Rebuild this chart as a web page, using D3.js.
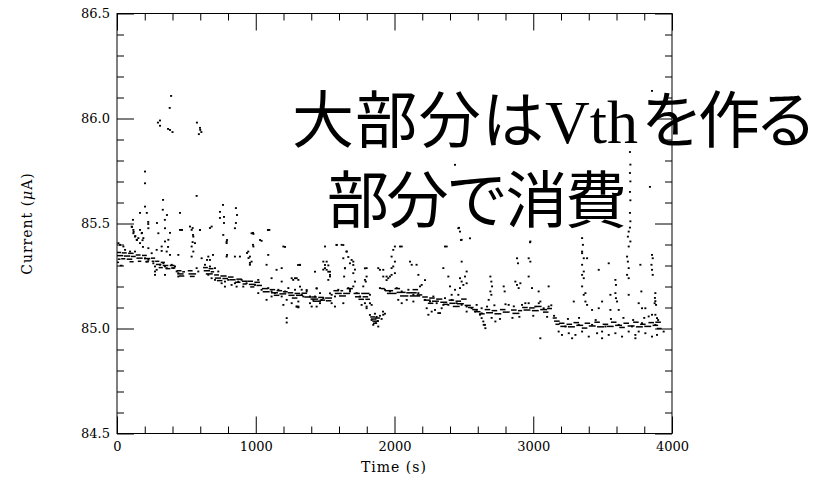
<!DOCTYPE html>
<html>
<head>
<meta charset="utf-8">
<script src="https://cdn.jsdelivr.net/npm/d3@7"></script>
<style>
  body { margin: 0; background: #fff; }
</style>
</head>
<body>
<div id="chart"></div>
<script>
// tick values
const xMajorTicks = [0, 1000, 2000, 3000, 4000];
const xMinorTicks = [200, 400, 600, 800, 1200, 1400, 1600, 1800, 2200, 2400, 2600, 2800, 3200, 3400, 3600, 3800];
const yMajorTicks = [84.5, 85.0, 85.5, 86.0, 86.5];
const yMinorTicks = [84.6, 84.7, 84.8, 84.9, 85.1, 85.2, 85.3, 85.4, 85.6, 85.7, 85.8, 85.9, 86.1, 86.2, 86.3, 86.4];

// dense baseline, read as short horizontal streaks [start s, end s, current uA]
const bandStreaks = [
  [0, 30, 85.362], [35, 70, 85.36], [80, 120, 85.358], [0, 45, 85.347], [50, 95, 85.345], [100, 135, 85.343],
  [5, 25, 85.33], [30, 60, 85.332], [70, 110, 85.33], [0, 15, 85.315], [20, 40, 85.3], [90, 120, 85.318],
  [135, 170, 85.35], [180, 215, 85.348], [140, 185, 85.335], [195, 240, 85.333], [245, 275, 85.335],
  [150, 175, 85.32], [205, 230, 85.318], [250, 270, 85.32],
  [275, 305, 85.32], [315, 345, 85.315], [280, 320, 85.305], [330, 370, 85.3], [380, 415, 85.3],
  [300, 330, 85.29], [350, 385, 85.285], [390, 420, 85.288],
  [430, 465, 85.275], [470, 490, 85.27], [435, 480, 85.26], [445, 485, 85.25], [510, 545, 85.275],
  [515, 570, 85.26], [525, 560, 85.248],
  [620, 655, 85.29], [660, 695, 85.285], [625, 670, 85.275], [675, 700, 85.27], [640, 690, 85.26],
  [700, 735, 85.255], [745, 790, 85.25], [705, 750, 85.24], [760, 800, 85.238], [720, 760, 85.228],
  [800, 840, 85.245], [810, 855, 85.232], [860, 900, 85.235], [850, 890, 85.22], [900, 940, 85.225], [905, 935, 85.212],
  [940, 980, 85.225], [990, 1030, 85.22], [950, 1000, 85.21], [1005, 1045, 85.205], [960, 990, 85.198],
  [1045, 1090, 85.19], [1100, 1140, 85.185], [1050, 1100, 85.175], [1110, 1160, 85.17], [1150, 1190, 85.18],
  [1170, 1220, 85.165], [1130, 1170, 85.158], [1195, 1230, 85.175],
  [1230, 1270, 85.17], [1280, 1320, 85.167], [1235, 1280, 85.158], [1290, 1340, 85.158], [1330, 1370, 85.168],
  [1350, 1400, 85.15], [1260, 1300, 85.145],
  [1400, 1440, 85.15], [1450, 1490, 85.148], [1395, 1450, 85.14], [1460, 1500, 85.135], [1410, 1470, 85.13],
  [1500, 1550, 85.145], [1505, 1545, 85.132],
  [1560, 1600, 85.18], [1610, 1630, 85.18], [1570, 1620, 85.167], [1630, 1680, 85.167], [1655, 1700, 85.19], [1600, 1650, 85.155],
  [1705, 1750, 85.167], [1760, 1820, 85.167], [1715, 1760, 85.151], [1770, 1810, 85.151], [1740, 1780, 85.139], [1790, 1823, 85.139],
  [1825, 1860, 85.055], [1830, 1870, 85.045], [1840, 1880, 85.035], [1845, 1875, 85.025], [1860, 1895, 85.05],
  [1930, 1990, 85.18], [1945, 2015, 85.167], [2015, 2080, 85.172], [2085, 2160, 85.17], [2040, 2100, 85.155],
  [2110, 2185, 85.155], [1900, 1930, 85.19], [2160, 2200, 85.16], [2000, 2040, 85.19], [2130, 2170, 85.185],
  [2200, 2240, 85.15], [2250, 2290, 85.145], [2210, 2260, 85.135], [2270, 2320, 85.13], [2300, 2345, 85.14],
  [2330, 2380, 85.125], [2240, 2280, 85.12], [2350, 2385, 85.115],
  [2390, 2430, 85.135], [2440, 2480, 85.13], [2395, 2440, 85.12], [2450, 2500, 85.118], [2480, 2520, 85.14],
  [2505, 2550, 85.11], [2530, 2570, 85.1], [2560, 2600, 85.09], [2580, 2620, 85.08], [2610, 2650, 85.07], [2420, 2470, 85.105],
  [2650, 2690, 85.09], [2700, 2740, 85.085], [2660, 2710, 85.075], [2720, 2770, 85.07], [2760, 2800, 85.09],
  [2780, 2830, 85.078], [2840, 2880, 85.088], [2850, 2900, 85.072], [2890, 2920, 85.085],
  [2920, 2960, 85.1], [2970, 3010, 85.098], [2930, 2980, 85.088], [2990, 3040, 85.085], [3020, 3060, 85.105],
  [3050, 3100, 85.09], [3070, 3110, 85.078], [3100, 3135, 85.095],
  [3140, 3170, 85.05], [3150, 3190, 85.035], [3160, 3190, 85.02],
  [3185, 3225, 85.025], [3240, 3280, 85.02], [3195, 3240, 85.01], [3250, 3300, 85.008], [3290, 3330, 85.028],
  [3310, 3360, 85.015], [3350, 3390, 85.002], [3370, 3410, 85.025], [3400, 3450, 85.012], [3440, 3480, 85.03],
  [3460, 3510, 85.008], [3500, 3540, 85.02], [3530, 3580, 85.01], [3560, 3600, 85.03], [3590, 3640, 85.015],
  [3620, 3660, 85.005], [3650, 3690, 85.025], [3680, 3730, 85.012], [3720, 3760, 85.03], [3740, 3790, 85.008],
  [3770, 3810, 85.02], [3800, 3850, 85.01], [3830, 3870, 85.028], [3860, 3900, 85.015], [3880, 3920, 85.03], [3890, 3925, 85.0]
];

// scattered samples [time s, current uA]
const dotsEarly = [
  [106, 85.485], [118, 85.469], [118, 85.453], [130, 85.437], [142, 85.422], [166, 85.469], [178, 85.453], [154, 85.43],
  [166, 85.406], [190, 85.43], [226, 85.477], [346, 85.477], [454, 85.469], [466, 85.469], [526, 85.485], [538, 85.469],
  [598, 85.469], [682, 85.485], [766, 85.445], [790, 85.406], [850, 85.477], [970, 85.453], [1090, 85.469], [298, 85.453],
  [346, 85.414], [322, 85.39], [370, 85.422], [550, 85.437], [562, 85.406], [538, 85.39], [550, 85.366], [10, 85.406],
  [22, 85.398], [46, 85.39], [58, 85.374], [94, 85.366], [130, 85.366], [226, 85.382], [286, 85.374], [322, 85.369],
  [358, 85.366], [250, 85.358], [382, 85.35], [442, 85.35], [538, 85.342], [610, 85.334], [658, 85.342], [790, 85.342],
  [850, 85.342], [886, 85.342], [946, 85.366], [958, 85.342], [970, 85.318], [958, 85.303], [1090, 85.35], [1078, 85.303],
  [1150, 85.279], [1187, 85.287], [1319, 85.303], [1259, 85.239], [1295, 85.239], [634, 85.303], [670, 85.295], [706, 85.287],
  [730, 85.271], [274, 85.255], [346, 85.255], [442, 85.247], [574, 85.287], [586, 85.271], [706, 85.231], [778, 85.223],
  [826, 85.207], [862, 85.199], [910, 85.199], [1078, 85.136], [1199, 85.112], [1223, 85.136], [1259, 85.12], [1295, 85.104],
  [1307, 85.128], [1114, 85.239], [1187, 85.223], [1223, 85.049], [1223, 85.028],
  [202, 85.334], [214, 85.318], [226, 85.326], [262, 85.31], [274, 85.295], [286, 85.279], [310, 85.303], [334, 85.31],
  [346, 85.295], [358, 85.287], [394, 85.303], [406, 85.287], [418, 85.295], [430, 85.271], [442, 85.263], [274, 85.271],
  [658, 85.255], [682, 85.239], [754, 85.215], [778, 85.199], [802, 85.231], [850, 85.215], [874, 85.223], [898, 85.231],
  [934, 85.215], [994, 85.207], [1018, 85.231], [1042, 85.184], [1090, 85.192], [1114, 85.176], [1138, 85.168], [1163, 85.184],
  [1211, 85.176], [1235, 85.192], [1283, 85.184], [1331, 85.16], [1319, 85.199], [1018, 85.168], [1114, 85.152], [1187, 85.152],
  [202, 85.58], [215, 85.55], [166, 85.55], [115, 85.517], [108, 85.483], [120, 85.46], [132, 85.44], [144, 85.421],
  [180, 85.455], [184, 85.42], [187, 85.388], [225, 85.507], [225, 85.497], [288, 85.502], [330, 85.565], [345, 85.517],
  [360, 85.54], [382, 85.455], [368, 85.388], [332, 85.612], [454, 85.55], [468, 85.469], [545, 85.478], [548, 85.445],
  [545, 85.411], [598, 85.469], [670, 85.478], [742, 85.555], [742, 85.526], [764, 85.588], [771, 85.531], [771, 85.502],
  [857, 85.573], [865, 85.54], [857, 85.502], [793, 85.421], [980, 85.455], [937, 85.359], [948, 85.335], [958, 85.312],
  [1088, 85.469], [1031, 85.421], [980, 85.398], [1211, 85.388], [1305, 85.302], [692, 85.35], [793, 85.35], [649, 85.326],
  [670, 85.326], [574, 85.631], [790, 85.413], [983, 85.45], [1042, 85.417], [1098, 85.469], [983, 85.39], [1199, 85.39],
  [1270, 85.231], [1307, 85.231], [1307, 85.104]
];

const dotsMiddle = [
  [1367, 85.183], [1439, 85.191], [1487, 85.144], [1427, 85.152], [1343, 85.152], [1463, 85.12], [1439, 85.104],
  [1535, 85.167], [1499, 85.287], [1511, 85.318], [1523, 85.3], [1535, 85.27], [1535, 85.247], [1631, 85.397],
  [1655, 85.366], [1667, 85.34], [1679, 85.31], [1643, 85.287], [1715, 85.28], [1703, 85.318], [1799, 85.287],
  [1787, 85.231], [1775, 85.2], [1883, 85.287], [1919, 85.247], [1943, 85.23], [1583, 85.397], [1487, 85.28],
  [1631, 85.12], [1571, 85.152], [1679, 85.183], [1823, 85.12], [1799, 85.096], [1859, 85.07], [1871, 85.055],
  [1895, 85.06], [1907, 85.045], [1919, 85.065], [1883, 85.009], [1823, 85.064], [1835, 85.04], [1847, 85.017],
  [1865, 85.025], [1881, 85.035], [1917, 85.08], [1931, 85.07],
  [1499, 85.39], [1583, 85.398], [1619, 85.398], [1655, 85.366], [1487, 85.318], [1499, 85.302], [1511, 85.279],
  [1523, 85.27], [1535, 85.255], [1523, 85.231], [1631, 85.334], [1643, 85.286], [1637, 85.247], [1691, 85.326],
  [1703, 85.302], [1703, 85.263], [1715, 85.223], [1703, 85.2], [1787, 85.286], [1799, 85.247], [1793, 85.223],
  [1427, 85.27], [1439, 85.19], [1319, 85.302], [1283, 85.239], [1895, 85.279], [1919, 85.279], [1943, 85.247],
  [1955, 85.239], [1979, 85.255], [2003, 85.39], [1991, 85.374], [1979, 85.342], [2003, 85.318], [1991, 85.295],
  [1979, 85.287], [2003, 85.263], [1967, 85.247], [2052, 85.39], [2112, 85.318], [2124, 85.303], [2159, 85.303],
  [2172, 85.255], [2196, 85.207], [2184, 85.2], [2220, 85.23], [2364, 85.39], [2376, 85.39], [2352, 85.287],
  [2388, 85.247], [2400, 85.2], [2436, 85.184], [2460, 85.16], [2412, 85.16], [2460, 85.477], [2472, 85.461],
  [2484, 85.422], [2544, 85.429], [2484, 85.318], [2520, 85.271], [2508, 85.247], [2472, 85.239], [2484, 85.223],
  [2520, 85.215], [2496, 85.207], [2472, 85.192], [1787, 85.12], [1799, 85.104], [1571, 85.104], [1547, 85.12],
  [1391, 85.12], [1403, 85.104], [1835, 85.112], [1763, 85.112], [1895, 85.192], [2027, 85.136], [2052, 85.12],
  [2088, 85.136], [2136, 85.128], [2232, 85.096], [2268, 85.08], [2292, 85.088], [2328, 85.073], [2340, 85.096],
  [2352, 85.112], [2388, 85.112], [2580, 85.08], [2592, 85.088], [2616, 85.065], [2628, 85.049], [2640, 85.033],
  [2652, 85.017], [2628, 85.096], [2520, 85.08], [2244, 85.065], [2316, 85.073], [1307, 85.1], [1295, 85.104],
  [1331, 85.184], [1367, 85.176], [1391, 85.152], [1415, 85.136], [1463, 85.168], [1475, 85.136], [1547, 85.16],
  [1595, 85.184], [1667, 85.192], [1679, 85.176], [1727, 85.168], [1751, 85.152], [1823, 85.16], [1931, 85.184],
  [1967, 85.176], [2016, 85.192], [2052, 85.176], [2100, 85.184], [2136, 85.16], [2172, 85.168], [2220, 85.136],
  [2256, 85.128], [2280, 85.152], [2304, 85.12], [2364, 85.144], [2412, 85.136], [2448, 85.12], [2484, 85.112],
  [2520, 85.104], [2556, 85.096], [2592, 85.112], [2628, 85.072], [2465, 85.479], [2479, 85.421], [2040, 85.39]
];

const dotsLate = [
  [2979, 85.414], [2977, 85.41], [3352, 85.43], [3358, 85.398], [3352, 85.366], [3352, 85.358], [3364, 85.334],
  [3352, 85.303], [3364, 85.271], [3352, 85.255], [3364, 85.239], [3352, 85.2], [3364, 85.16], [3376, 85.128],
  [3388, 85.334], [3688, 85.461], [3682, 85.437], [3700, 85.414], [3688, 85.39], [3676, 85.342], [3682, 85.318],
  [3688, 85.287], [3676, 85.255], [3688, 85.239], [3856, 85.35], [3861, 85.334], [3852, 85.303], [3856, 85.279],
  [3861, 85.255], [3772, 85.303], [3472, 85.279], [3544, 85.31], [3592, 85.231], [3596, 85.207], [3556, 85.16],
  [3592, 85.168], [3596, 85.144], [3604, 85.128], [3688, 85.16], [3779, 85.176], [3808, 85.096], [3880, 85.168],
  [3875, 85.12], [3885, 85.112], [2691, 85.247], [2698, 85.223], [2703, 85.2], [2691, 85.176], [2698, 85.16],
  [2787, 85.2], [2794, 85.176], [2871, 85.223], [2883, 85.207], [2895, 85.192], [2907, 85.215], [2883, 85.334],
  [2890, 85.31], [2967, 85.334], [2979, 85.318], [2967, 85.247], [2991, 85.192], [3039, 85.176], [3111, 85.2],
  [3376, 85.168], [3388, 85.112], [3292, 85.128], [3424, 85.088], [3472, 85.096], [3496, 85.128], [3556, 85.088],
  [3616, 85.088], [3760, 85.12], [3784, 85.096], [3856, 85.065], [3832, 85.057], [3880, 85.065], [3892, 85.049],
  [2667, 85.104], [2679, 85.136], [2823, 85.112], [2919, 85.112], [2943, 85.12], [3051, 85.128], [3075, 85.096],
  [2967, 85.12], [3015, 85.104], [3111, 85.104], [2655, 85.001], [2643, 85.017], [2727, 85.033], [3051, 84.953],
  [3183, 84.985], [3207, 84.969], [3256, 84.977], [3304, 84.969], [3352, 84.985], [3400, 84.961], [3460, 84.977],
  [3496, 84.985], [3544, 84.969], [3592, 84.977], [3640, 84.961], [3688, 84.985], [3736, 84.969], [3760, 84.985],
  [3808, 84.977], [3856, 84.961], [3892, 84.969], [3940, 84.985], [3232, 85.009], [3328, 85.017], [3424, 85.017],
  [3520, 85.009], [3616, 85.017], [3712, 85.009], [3784, 85.025], [3880, 85.017], [3280, 84.953], [3496, 84.953],
  [3736, 84.953], [3877, 85.145], [3880, 85.13], [2700, 85.05], [2760, 85.045], [2850, 85.05], [2900, 85.055],
  [3000, 85.06], [3100, 85.055], [3150, 85.06], [2720, 85.11], [2800, 85.115], [2860, 85.105], [3040, 85.12],
  [3130, 85.11], [3250, 85.045], [3330, 85.05], [3450, 85.04], [3560, 85.045], [3650, 85.05], [3720, 85.04],
  [3800, 85.05], [3900, 85.04]
];

// isolated high readings
const dotsHigh = [
  [390, 86.107], [380, 86.05], [295, 85.98], [310, 85.99], [310, 85.965], [368, 85.95], [382, 85.945], [400, 85.935],
  [576, 85.98], [600, 85.945], [608, 85.935], [590, 85.925], [598, 85.955], [202, 85.747], [202, 85.691], [2436, 85.779],
  [3856, 86.131], [3697, 85.84], [3700, 85.78], [3697, 85.74], [3700, 85.7], [3697, 85.65], [3700, 85.61],
  [3697, 85.55], [3700, 85.51], [3697, 85.48], [3841, 85.674]
];

const width = 822;
const height = 479;
const margin = { top: 13.5, right: 150, bottom: 45.5, left: 117 };
const innerW = width - margin.left - margin.right;
const innerH = height - margin.top - margin.bottom;
const fontAxis = 'DejaVu Serif';

const svg = d3.select('#chart')
  .append('svg')
  .attr('width', width)
  .attr('height', height)
  .style('display', 'block');

svg.append('rect')
  .attr('width', width)
  .attr('height', height)
  .attr('fill', '#fff');

const wrapper = svg.append('g')
  .attr('transform', `translate(${margin.left}, ${margin.top})`);

const x = d3.scaleLinear().domain([0, 4000]).range([0, innerW]);
const y = d3.scaleLinear().domain([84.5, 86.5]).range([innerH, 0]);

// data
wrapper.append('g')
  .selectAll('line')
  .data(bandStreaks)
  .join('line')
  .attr('x1', (d) => x(d[0]))
  .attr('x2', (d) => x(d[1]))
  .attr('y1', (d) => y(d[2]))
  .attr('y2', (d) => y(d[2]))
  .attr('stroke', '#000')
  .attr('stroke-width', 1.5);

const allDots = dotsEarly.concat(dotsMiddle, dotsLate, dotsHigh);
wrapper.append('g')
  .selectAll('rect')
  .data(allDots)
  .join('rect')
  .attr('x', (d) => x(d[0]) - 1)
  .attr('y', (d) => y(d[1]) - 1)
  .attr('width', 2)
  .attr('height', 1.8)
  .attr('fill', '#000');

// axes, ticks inside on all four sides
const styleAxis = (g) => {
  g.select('.domain').remove();
  g.selectAll('line').attr('stroke', '#000').attr('stroke-width', 1);
  g.selectAll('text')
    .attr('fill', '#000')
    .attr('font-family', fontAxis)
    .attr('font-size', 13);
};

wrapper.append('g')
  .attr('transform', `translate(0, ${innerH})`)
  .call(d3.axisBottom(x).tickValues(xMajorTicks).tickFormat(d3.format('d')).tickSizeInner(-17).tickSizeOuter(0).tickPadding(8))
  .call(styleAxis);
wrapper.append('g')
  .attr('transform', `translate(0, ${innerH})`)
  .call(d3.axisBottom(x).tickValues(xMinorTicks).tickFormat('').tickSizeInner(-7).tickSizeOuter(0))
  .call(styleAxis);
wrapper.append('g')
  .call(d3.axisTop(x).tickValues(xMajorTicks).tickFormat('').tickSizeInner(-17).tickSizeOuter(0))
  .call(styleAxis);
wrapper.append('g')
  .call(d3.axisTop(x).tickValues(xMinorTicks).tickFormat('').tickSizeInner(-7).tickSizeOuter(0))
  .call(styleAxis);

wrapper.append('g')
  .call(d3.axisLeft(y).tickValues(yMajorTicks).tickFormat(d3.format('.1f')).tickSizeInner(-17).tickSizeOuter(0).tickPadding(7))
  .call(styleAxis);
wrapper.append('g')
  .call(d3.axisLeft(y).tickValues(yMinorTicks).tickFormat('').tickSizeInner(-7).tickSizeOuter(0))
  .call(styleAxis);
wrapper.append('g')
  .attr('transform', `translate(${innerW}, 0)`)
  .call(d3.axisRight(y).tickValues(yMajorTicks).tickFormat('').tickSizeInner(-17).tickSizeOuter(0))
  .call(styleAxis);
wrapper.append('g')
  .attr('transform', `translate(${innerW}, 0)`)
  .call(d3.axisRight(y).tickValues(yMinorTicks).tickFormat('').tickSizeInner(-7).tickSizeOuter(0))
  .call(styleAxis);

wrapper.append('rect')
  .attr('width', innerW)
  .attr('height', innerH)
  .attr('fill', 'none')
  .attr('stroke', '#000')
  .attr('stroke-width', 1);

// axis titles
svg.append('text')
  .attr('x', margin.left + innerW / 2 - 0.5)
  .attr('y', 472)
  .attr('text-anchor', 'middle')
  .attr('font-family', fontAxis)
  .attr('font-size', 14)
  .attr('letter-spacing', 1)
  .text('Time (s)');

const yTitle = svg.append('text')
  .attr('transform', `translate(32, ${margin.top + innerH / 2}) rotate(-90)`)
  .attr('text-anchor', 'middle')
  .attr('font-family', fontAxis)
  .attr('font-size', 14)
  .attr('letter-spacing', 1);
yTitle.append('tspan').text('Current (');
yTitle.append('tspan').attr('font-style', 'italic').text('μ');
yTitle.append('tspan').text('A)');

// overlay caption
const cjk = '"Noto Sans CJK JP", "Noto Sans CJK SC", sans-serif';
const line1 = svg.append('text')
  .attr('y', 143)
  .attr('font-family', cjk)
  .attr('font-size', 62)
  .attr('fill', '#000');
line1.append('tspan').attr('x', 292).attr('textLength', 252).attr('lengthAdjust', 'spacing').text('大部分は');
line1.append('tspan').attr('x', 545).attr('font-family', '"Liberation Serif", serif').text('Vth');
line1.append('tspan').attr('x', 641).attr('textLength', 176).attr('lengthAdjust', 'spacing').text('を作る');

svg.append('text')
  .attr('x', 327)
  .attr('y', 223)
  .attr('font-family', cjk)
  .attr('font-size', 62)
  .attr('fill', '#000')
  .attr('textLength', 300)
  .attr('lengthAdjust', 'spacing')
  .text('部分で消費');
</script>
</body>
</html>
